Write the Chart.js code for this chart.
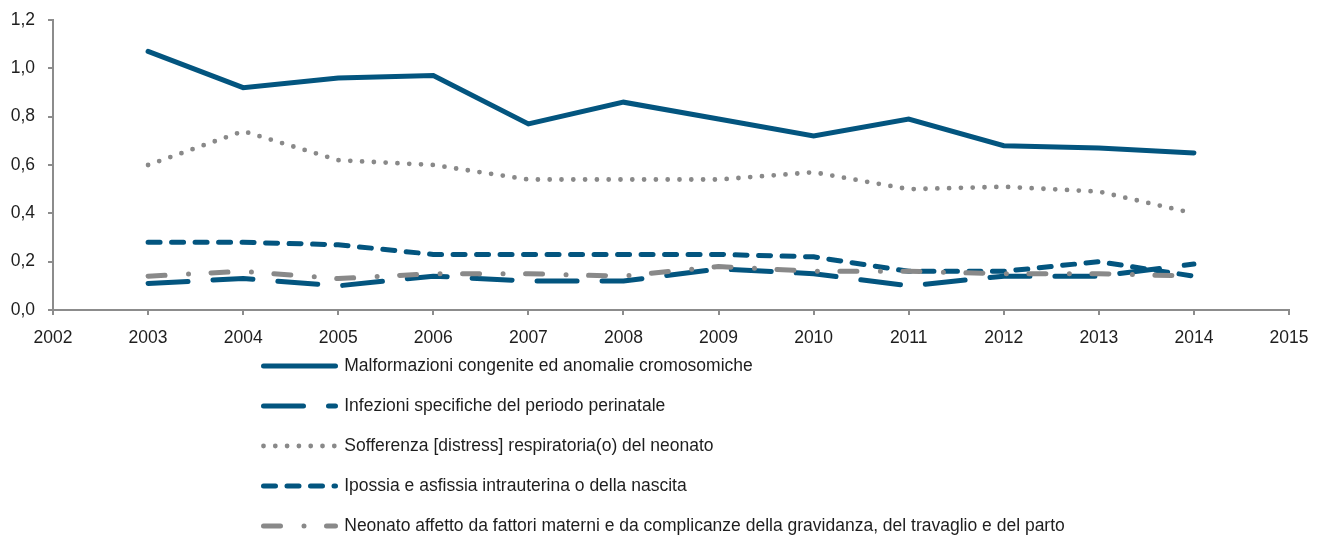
<!DOCTYPE html>
<html>
<head>
<meta charset="utf-8">
<script src="https://cdn.jsdelivr.net/npm/chart.js@4/dist/chart.umd.min.js"></script>
<style>
  html, body { margin: 0; padding: 0; background: #ffffff; }
  #wrap { width: 1324px; height: 535px; position: relative; overflow: hidden; }
</style>
</head>
<body>
<div id="wrap"><canvas id="c" width="1324" height="535"></canvas></div>
<script>
// ---- Data ----
const years = [2003, 2004, 2005, 2006, 2007, 2008, 2009, 2010, 2011, 2012, 2013, 2014];
const malformazioni = [1.07, 0.92, 0.96, 0.97, 0.77, 0.86, 0.79, 0.72, 0.79, 0.68, 0.67, 0.65];
const infezioni     = [0.11, 0.13, 0.10, 0.14, 0.12, 0.12, 0.17, 0.15, 0.10, 0.14, 0.14, 0.19];
const sofferenza    = [0.60, 0.74, 0.62, 0.60, 0.54, 0.54, 0.54, 0.57, 0.50, 0.51, 0.49, 0.40];
const ipossia       = [0.28, 0.28, 0.27, 0.23, 0.23, 0.23, 0.23, 0.22, 0.16, 0.16, 0.20, 0.14];
const neonato       = [0.14, 0.16, 0.13, 0.15, 0.15, 0.14, 0.18, 0.16, 0.16, 0.15, 0.15, 0.14];
const seriesNames = [
  'Malformazioni congenite ed anomalie cromosomiche',
  'Infezioni specifiche del periodo perinatale',
  'Sofferenza [distress] respiratoria(o) del neonato',
  'Ipossia e asfissia intrauterina o della nascita',
  'Neonato affetto da fattori materni e da complicanze della gravidanza, del travaglio e del parto'
];
const xMin = 2002, xMax = 2015;
const yMin = 0, yMax = 1.2, yStep = 0.2;

// ---- Font detection ----
const NARROW = (() => {
  const c = document.createElement('canvas').getContext('2d');
  const s = 'Malformazioni congenite 0123456789';
  c.font = '40px monospace';
  const a = c.measureText(s).width;
  c.font = '40px "Liberation Sans Narrow", monospace';
  const b = c.measureText(s).width;
  return Math.abs(a - b) > 1;
})();
const FONT_FAMILY = NARROW ? '"Liberation Sans Narrow", "Liberation Sans", Arial, sans-serif'
                           : '"Liberation Sans", Arial, sans-serif';
const FONT_SIZE = NARROW ? 21 : 17.5;

const BLUE = '#03557f';
const GREY = '#898989';
const AXIS = '#8c8c8c';
const TEXT = '#1e1e1e';

// ---- Layout constants ----
const AREA_TOP = 20;
const AREA_BOTTOM = 310;
const X_SCALE_H = 45;
const LEG_ROW = 40;
const LEG_PAD = LEG_ROW - FONT_SIZE;
const LEG_FIRST_CENTER = 366;
const LEG_TOP = LEG_FIRST_CENTER - LEG_PAD - FONT_SIZE / 2;
const LEG_SAMPLE_W = 72;
const LEG_X = 263.5;
const LEG_W = 300;

const toPts = arr => years.map((y, i) => ({ x: y, y: arr[i] }));

function ds(label, data, color, width, dash, order, cap, join) {
  return {
    label, data: toPts(data),
    borderColor: color, backgroundColor: color,
    borderWidth: width, borderDash: dash,
    borderCapStyle: cap, borderJoinStyle: join,
    pointRadius: 0, pointHoverRadius: 0, tension: 0, fill: false, order
  };
}

const datasets = [
  ds(seriesNames[0], malformazioni, BLUE, 5, [], 4, 'round', 'miter'),
  ds(seriesNames[1], infezioni, BLUE, 5, [40, 25], 3, 'round', 'round'),
  ds(seriesNames[2], sofferenza, GREY, 4.8, [0, 11.8], 2, 'round', 'round'),
  ds(seriesNames[3], ipossia, BLUE, 5, [12, 11.5], 1, 'round', 'round'),
  ds(seriesNames[4], neonato, GREY, 5, [17, 23.5, 0, 22.5], 0, 'round', 'round')
];

// Legend arranged as a single left-aligned column, as in the reference
const legendColumn = {
  id: 'legendColumn',
  afterInit(chart) {
    const lg = chart.legend;
    if (!lg) return;
    const proto = Object.getPrototypeOf(lg);
    lg.fit = function () {
      const mw = this.maxWidth;
      this.maxWidth = LEG_W;
      proto.fit.call(this);
      this.maxWidth = mw;
      this.width = mw;
      this.height = 535 - AREA_BOTTOM - X_SCALE_H;
    };
    lg.draw = function () {
      if (!this.options.display) return;
      this.ctx.save();
      this._draw();
      this.ctx.restore();
    };
  },
  afterLayout(chart) {
    const lg = chart.legend;
    if (!lg) return;
    lg.left = LEG_X - LEG_PAD;
    lg.right = lg.left + LEG_W;
    lg.top = LEG_TOP;
    lg.bottom = 535;
  }
};

Chart.defaults.font.family = FONT_FAMILY;
Chart.defaults.font.size = FONT_SIZE;
Chart.defaults.color = TEXT;

new Chart(document.getElementById('c'), {
  type: 'line',
  data: { datasets },
  options: {
    responsive: false,
    animation: false,
    events: [],
    layout: { padding: { left: 0, right: 35, top: AREA_TOP, bottom: 0 } },
    scales: {
      x: {
        type: 'linear', min: xMin, max: xMax,
        border: { display: true, color: AXIS, width: 2 },
        grid: { display: true, drawOnChartArea: false, drawTicks: true, tickLength: 5, color: AXIS, lineWidth: 2 },
        ticks: {
          stepSize: 1, autoSkip: false, maxRotation: 0, minRotation: 0,
          padding: 23 - 0.6 * FONT_SIZE, color: TEXT,
          callback: v => String(v)
        },
        afterFit: s => { s.height = X_SCALE_H; }
      },
      y: {
        min: yMin, max: yMax,
        border: { display: true, color: AXIS, width: 2 },
        grid: { display: true, drawOnChartArea: false, drawTicks: true, tickLength: 5, color: AXIS, lineWidth: 2 },
        ticks: {
          stepSize: yStep, padding: 13, color: TEXT,
          callback: v => v.toFixed(1).replace('.', ',')
        },
        afterFit: s => { s.width = 53; s.paddingTop = 0; s.paddingBottom = 0; }
      }
    },
    plugins: {
      tooltip: { enabled: false },
      legend: {
        display: true,
        position: 'bottom',
        align: 'start',
        labels: {
          usePointStyle: true,
          pointStyle: 'line',
          pointStyleWidth: LEG_SAMPLE_W,
          padding: LEG_PAD,
          color: TEXT,
          font: { family: FONT_FAMILY, size: FONT_SIZE },
          sort: (a, b) => a.datasetIndex - b.datasetIndex,
          generateLabels: chart => {
            const items = Chart.defaults.plugins.legend.labels.generateLabels(chart);
            items.forEach(it => {
              const d = chart.data.datasets[it.datasetIndex];
              it.lineDash = d.borderDash;
              it.lineDashOffset = 0;
              it.lineWidth = d.borderWidth;
              it.lineCap = d.borderCapStyle;
              it.strokeStyle = d.borderColor;
              it.fillStyle = d.borderColor;
              it.pointStyle = 'line';
            });
            return items;
          }
        }
      }
    }
  },
  plugins: [legendColumn]
});
</script>
</body>
</html>
